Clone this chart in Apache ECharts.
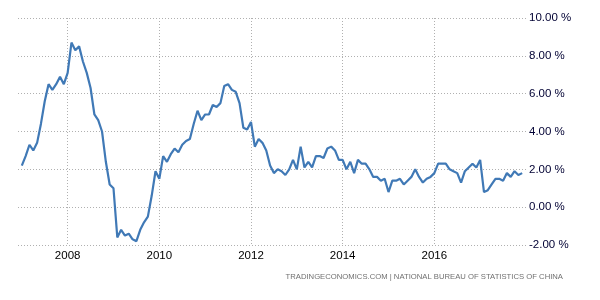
<!DOCTYPE html>
<html>
<head>
<meta charset="utf-8">
<script src="https://cdn.jsdelivr.net/npm/echarts@6/dist/echarts.min.js"></script>
<style>
html,body{margin:0;padding:0;background:#fff;}
#chart{width:600px;height:300px;}
</style>
</head>
<body>
<div id="chart"></div>
<script>
// China CPI inflation rate, year over year (%), monthly Jan 2007 - Dec 2017
var startYear = 2007;
var cpi2007 = [2.2, 2.7, 3.3, 3.0, 3.4, 4.4, 5.6, 6.5, 6.2, 6.5, 6.9, 6.5];
var cpi2008 = [7.1, 8.7, 8.3, 8.5, 7.7, 7.1, 6.3, 4.9, 4.6, 4.0, 2.4, 1.2];
var cpi2009 = [1.0, -1.6, -1.2, -1.5, -1.4, -1.7, -1.8, -1.2, -0.8, -0.5, 0.6, 1.9];
var cpi2010 = [1.5, 2.7, 2.4, 2.8, 3.1, 2.9, 3.3, 3.5, 3.6, 4.4, 5.1, 4.6];
var cpi2011 = [4.9, 4.9, 5.4, 5.3, 5.5, 6.4, 6.5, 6.2, 6.1, 5.5, 4.2, 4.1];
var cpi2012 = [4.5, 3.2, 3.6, 3.4, 3.0, 2.2, 1.8, 2.0, 1.9, 1.7, 2.0, 2.5];
var cpi2013 = [2.0, 3.2, 2.1, 2.4, 2.1, 2.7, 2.7, 2.6, 3.1, 3.2, 3.0, 2.5];
var cpi2014 = [2.5, 2.0, 2.4, 1.8, 2.5, 2.3, 2.3, 2.0, 1.6, 1.6, 1.4, 1.5];
var cpi2015 = [0.8, 1.4, 1.4, 1.5, 1.2, 1.4, 1.6, 2.0, 1.6, 1.3, 1.5, 1.6];
var cpi2016 = [1.8, 2.3, 2.3, 2.3, 2.0, 1.9, 1.8, 1.3, 1.9, 2.1, 2.3, 2.1];
var cpi2017 = [2.5, 0.8, 0.9, 1.2, 1.5, 1.5, 1.4, 1.8, 1.6, 1.9, 1.7, 1.8];
var yTicks = [-2, 0, 2, 4, 6, 8, 10];
var sourceText = 'TRADINGECONOMICS.COM | NATIONAL BUREAU OF STATISTICS OF CHINA';

var values = [].concat(cpi2007, cpi2008, cpi2009, cpi2010, cpi2011, cpi2012,
                       cpi2013, cpi2014, cpi2015, cpi2016, cpi2017);

// month categories, with one empty month padding on each side
var categories = ['2006-12'];
var seriesData = [null];
for (var i = 0; i < values.length; i++) {
  var y = startYear + Math.floor(i / 12), m = i % 12 + 1;
  categories.push(y + '-' + (m < 10 ? '0' + m : m));
  seriesData.push(values[i]);
}
categories.push('2018-01');
seriesData.push(null);

function isEvenYearStart(idx) {
  var c = categories[idx];
  var yr = parseInt(c.slice(0, 4), 10), mo = c.slice(5);
  return mo === '01' && yr % 2 === 0 && yr <= 2016;
}

var font = "'Liberation Sans', Arial, sans-serif";
var gridStyle = {color: '#b0b0b0', type: [1, 2], width: 1};
var chart = echarts.init(document.getElementById('chart'), null, {renderer: 'canvas'});
chart.setOption({
  animation: false,
  backgroundColor: '#ffffff',
  grid: {left: 18, right: 74, top: 18, bottom: 55},
  xAxis: {
    type: 'category',
    data: categories,
    boundaryGap: false,
    axisLine: {show: false},
    axisTick: {show: true, length: 4, interval: function (idx) { return isEvenYearStart(idx); },
               lineStyle: gridStyle},
    axisLabel: {
      interval: function (idx) { return isEvenYearStart(idx); },
      formatter: function (v) { return v.slice(0, 4); },
      color: '#000000', fontSize: 11.5, fontFamily: font, margin: 5
    },
    splitLine: {show: true, interval: function (idx) { return isEvenYearStart(idx); },
                lineStyle: gridStyle}
  },
  yAxis: {
    type: 'value',
    position: 'right',
    min: yTicks[0], max: yTicks[yTicks.length - 1], interval: 2,
    axisLine: {show: false},
    axisTick: {show: false},
    axisLabel: {
      formatter: function (v) { return v.toFixed(2) + ' %'; },
      color: '#000033', fontSize: 11.5, fontFamily: font, margin: 3
    },
    splitLine: {show: true, lineStyle: gridStyle}
  },
  graphic: [{
    type: 'text', right: 37, top: 273,
    style: {text: sourceText, fill: '#707070', font: '7.7px ' + font}
  }],
  series: [{
    type: 'line',
    data: seriesData,
    showSymbol: false,
    symbol: 'none',
    connectNulls: false,
    lineStyle: {color: '#4079b6', width: 2.2},
    itemStyle: {color: '#4079b6'}
  }]
});
</script>
</body>
</html>
